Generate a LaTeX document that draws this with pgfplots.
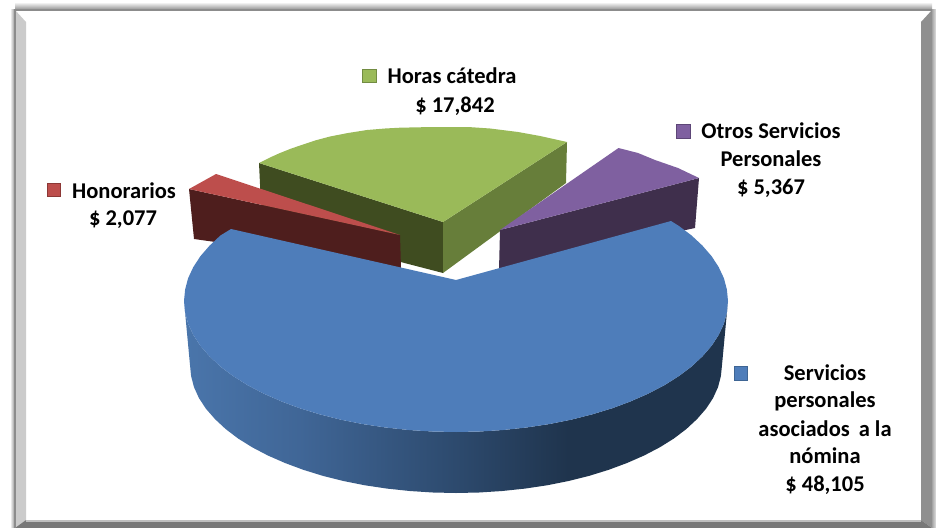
\documentclass[border=0pt]{standalone}
\usepackage{pgfplots}
\pgfplotsset{compat=1.18}
\usepackage{fontspec}
\setmainfont{Carlito}
\definecolor{blueT}{HTML}{4E7DBA}
\definecolor{blueK}{HTML}{3E6594}
\definecolor{redT}{HTML}{BD4E4C}
\definecolor{redW}{HTML}{4E1E1D}
\definecolor{redK}{HTML}{8C3836}
\definecolor{greenT}{HTML}{9ABA59}
\definecolor{greenL}{HTML}{3F4C20}
\definecolor{greenR}{HTML}{677E3A}
\definecolor{greenK}{HTML}{728C42}
\definecolor{purT}{HTML}{7F60A0}
\definecolor{purW}{HTML}{3F2F4C}
\definecolor{purK}{HTML}{5D4677}
\definecolor{bevL}{HTML}{CBCBCB}
\definecolor{bevR}{HTML}{8F8F8F}
\definecolor{bevB}{HTML}{787878}
\pgfdeclarehorizontalshading{wall}{100bp}{
 rgb(0bp)=(.29,.46,.67);
 rgb(25bp)=(.29,.46,.67);
 rgb(35.7bp)=(.25,.40,.59);
 rgb(50bp)=(.176,.29,.43);
 rgb(60.3bp)=(.122,.204,.302);
 rgb(75bp)=(.122,.204,.302);
 rgb(100bp)=(.122,.204,.302)}
\newcommand{\lab}[3]{\node[anchor=base,inner sep=0pt,font=\fontsize{22.6}{27}\selectfont\bfseries,text=black] at (axis cs:#1,#2) {#3};}
\begin{document}
\begin{tikzpicture}
\begin{axis}[hide axis,scale only axis,width=936bp,height=528bp,
  xmin=0,xmax=936,ymin=0,ymax=528,y dir=reverse,enlargelimits=false]
\path (axis cs:0,0) rectangle (axis cs:936,528);
% frame shadow
\addplot[draw=none,shade,top color=white,bottom color=black!45] coordinates {(15,2)(932,2)(932,10)(15,10)} --cycle;
\addplot[draw=none,shade,left color=white,right color=black!45] coordinates {(10,10)(15,10)(15,528)(10,528)} --cycle;
\addplot[draw=none,shade,left color=black!35,right color=black!12] coordinates {(932,10)(936,10)(936,528)(932,528)} --cycle;
% frame
\addplot[draw=none,fill=bevL] coordinates {(15,10)(26,22)(26,520)(15,528)} --cycle;
\addplot[draw=none,fill=bevR] coordinates {(932,10)(921,22)(921,520)(932,528)} --cycle;
\addplot[draw=none,fill=bevB] coordinates {(15,528)(26,520)(921,520)(932,528)} --cycle;
\addplot[draw=black!45,line width=1.5bp] coordinates {(15,528)(15,10)(932,10)};
\addplot[draw=black!25,line width=1.5bp] coordinates {(26,521)(921,521)};
% green slice
\addplot[draw=none,fill=greenL] coordinates {(259,163)(443,222)(443,273)(262,226)} --cycle;
\addplot[draw=none,fill=greenR] coordinates {(443,222)(567,142)(566,183)(443,273)} --cycle;
\addplot[draw=none,fill=greenT] coordinates {(259,163)(270,157.5)(280,153)(290,149)(300,145.5)(315,140.5)(330,136.5)(348,133)(367,130)(385,128.5)(400,127.7)(433,127)(468,127)(490,128.5)(518,132)(540,136)(567,142)(443,222)} --cycle;
% purple slice
\addplot[draw=none,fill=purW] coordinates {(500,230)(699,178)(695,228)(499,270)} --cycle;
\addplot[draw=none,fill=purT] coordinates {(500,230)(618.5,148)(638,153)(655,160)(678,168)(699,178)} --cycle;
% red slice
\addplot[draw=none,fill=redW] coordinates {(189,189)(400,235)(401,268)(194,239)} --cycle;
\addplot[draw=none,fill=redT] coordinates {(189,189)(216,174)(400,235)} --cycle;
% blue wall
\addplot[draw=none,shade,shading=wall] coordinates {
 (728,301)(726.9,312.4)(723.9,323.7)(718.7,334.9)(711.6,345.8)(702.4,356.4)(691.6,366.5)(678.8,376.1)(664.4,385.2)(648.3,393.6)(630.8,401.3)(612.1,408.3)(592,414.4)(571.1,419.7)(549,424.1)(526.4,427.5)(503.2,430)(479.7,431.5)(456,432)
 (432.3,431.5)(408.8,430)(385.6,427.5)(363,424.1)(340.9,419.7)(320,414.4)(299.9,408.3)(281.2,401.3)(263.7,393.6)(247.6,385.2)(233.2,376.1)(220.4,366.5)(209.6,356.4)(200.4,345.8)(193.3,334.9)(188.1,323.7)(185.1,312.4)(184,301)
 (190,365)(191.1,376.1)(194,387.2)(199,398.2)(206,408.8)(215,419.1)(225.6,429)(238.1,438.5)(252.2,447.3)(267.9,455.5)(285,463)(303.3,469.8)(323,475.9)(343.5,481)(365,485.3)(387.1,488.6)(409.7,491)(432.9,492.5)(456,493)
 (479.1,492.5)(502.3,491)(524.9,488.6)(547,485.3)(568.5,481)(589,475.9)(608.7,469.8)(627,463)(644.1,455.5)(659.8,447.3)(673.9,438.5)(686.4,429)(697,419.1)(706,408.8)(713,398.2)(718,387.2)(720.9,376.1)(722,365)} --cycle;
% blue top
\addplot[draw=none,fill=blueT] coordinates {
 (456,280)(671,221)(678.8,225.9)(691.6,235.5)(702.4,245.6)(711.6,256.2)(718.7,267.1)(723.9,278.2)(726.9,289.6)(728,301)
 (726.9,312.4)(723.9,323.7)(718.7,334.9)(711.6,345.8)(702.4,356.4)(691.6,366.5)(678.8,376.1)(664.4,385.2)(648.3,393.6)(630.8,401.3)(612.1,408.3)(592,414.4)(571.1,419.7)(549,424.1)(526.4,427.5)(503.2,430)(479.7,431.5)(456,432)
 (432.3,431.5)(408.8,430)(385.6,427.5)(363,424.1)(340.9,419.7)(320,414.4)(299.9,408.3)(281.2,401.3)(263.7,393.6)(247.6,385.2)(233.2,376.1)(220.4,366.5)(209.6,356.4)(200.4,345.8)(193.3,334.9)(188.1,323.7)(185.1,312.4)(184,301)
 (185.1,289.6)(188.1,278.2)(193.3,267.1)(200.4,256.2)(209.6,245.6)(220.4,235.5)(231,229)} --cycle;
% legend keys
\addplot[draw=greenK,fill=greenT,line width=1bp] coordinates {(362.5,69.5)(376.5,69.5)(376.5,83)(362.5,83)} --cycle;
\addplot[draw=redK,fill=redT,line width=1bp] coordinates {(47,183)(60.5,183)(60.5,196.5)(47,196.5)} --cycle;
\addplot[draw=purK,fill=purT,line width=1bp] coordinates {(676.5,124.5)(690,124.5)(690,138)(676.5,138)} --cycle;
\addplot[draw=blueK,fill=blueT,line width=1bp] coordinates {(734,366.5)(747.5,366.5)(747.5,380)(734,380)} --cycle;
% labels
\lab{452}{84}{Horas cátedra}
\lab{455}{112}{\$ 17,842}
\lab{124}{198}{Honorarios}
\lab{123}{225}{\$ 2,077}
\lab{771}{138}{Otros Servicios}
\lab{771}{166}{Personales}
\lab{771}{194}{\$ 5,367}
\lab{825}{380}{Servicios}
\lab{825}{407}{personales}
\lab{825}{436}{asociados\, a la}
\lab{825}{463}{nómina}
\lab{825}{491}{\$ 48,105}
\end{axis}
\end{tikzpicture}
\end{document}
